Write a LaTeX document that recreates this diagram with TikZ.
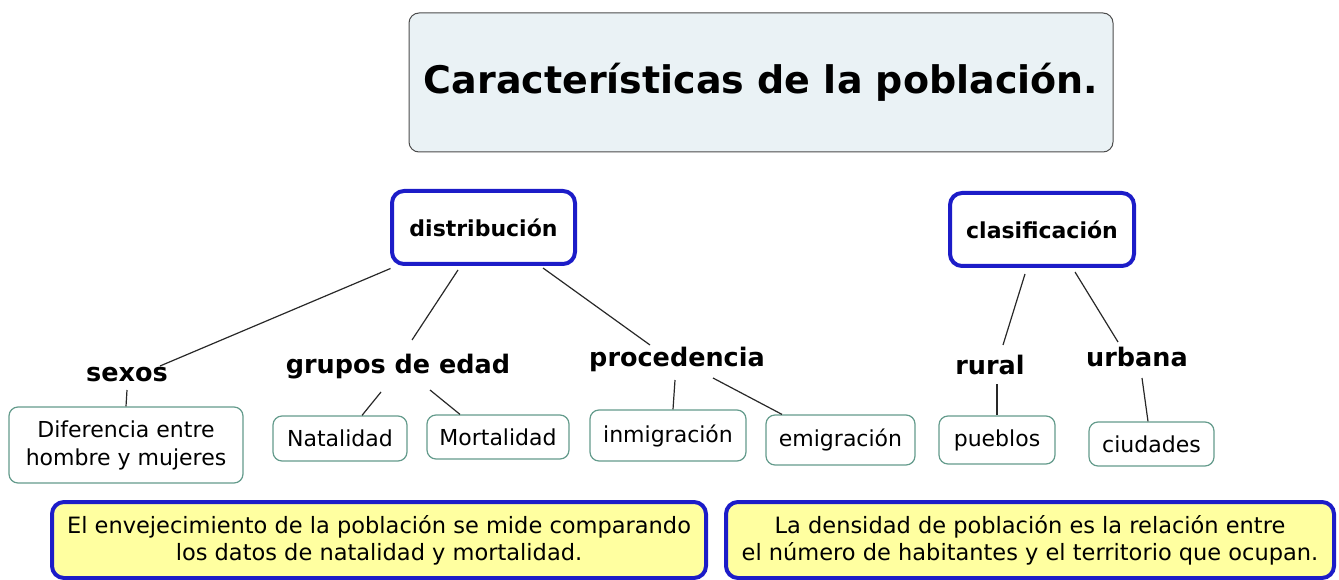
\documentclass[tikz,border=0pt]{standalone}
\usepackage{fontspec}
\setmainfont{DejaVu Sans}
\usetikzlibrary{calc}
\definecolor{bblue}{RGB}{28,28,200}
\definecolor{tealb}{RGB}{100,155,140}
\definecolor{titlefill}{RGB}{234,242,245}
\definecolor{yfill}{RGB}{255,255,160}
\definecolor{lin}{RGB}{40,40,40}
\tikzset{
  titlebox/.style={draw=black!70, fill=titlefill, line width=1pt, rounded corners=10pt, inner sep=0pt,
    font=\fontsize{38}{44}\selectfont\bfseries},
  conbox/.style={draw=bblue, fill=white, line width=4pt, rounded corners=12pt, inner sep=0pt,
    font=\fontsize{22}{26}\selectfont\bfseries},
  lab/.style={inner sep=0pt, font=\fontsize{25.5}{30}\selectfont\bfseries},
  leaf/.style={draw=tealb, fill=white, line width=1.2pt, rounded corners=9pt, inner sep=0pt, align=center,
    font=\fontsize{22}{28}\selectfont},
  note/.style={draw=bblue, fill=yfill, line width=4pt, rounded corners=12pt, inner sep=0pt, align=center,
    font=\fontsize{22.5}{27}\selectfont},
  link/.style={draw=lin, line width=1.2pt}
}
\begin{document}
\begin{tikzpicture}[x=1pt,y=-1pt]
\useasboundingbox (0,0) rectangle (1339,580);
\node[titlebox, minimum width=704, minimum height=139] (title) at (761,82.5) {Características de la población.};
\node[conbox, minimum width=183, minimum height=73] (dist) at (483.5,227.5) {distribución};
\node[conbox, minimum width=184, minimum height=73] (clas) at (1042,229.5) {clasificación};
\node[lab] (sexos) at (127,375) {sexos};
\node[lab] (grupos) at (398,367) {grupos de edad};
\node[lab] (proc) at (677,359) {procedencia};
\node[lab] (rural) at (990,365) {rural};
\node[lab] (urbana) at (1137,357) {urbana};
\node[leaf, minimum width=234, minimum height=76] (dif) at (126,445) {Diferencia entre\\hombre y mujeres};
\node[leaf, minimum width=134, minimum height=45] (nat) at (340,438.5) {Natalidad};
\node[leaf, minimum width=142, minimum height=44] (mort) at (498,437) {Mortalidad};
\node[leaf, minimum width=156, minimum height=51] (inm) at (668,435.5) {inmigración};
\node[leaf, minimum width=149, minimum height=50] (emi) at (840.5,440) {emigración};
\node[leaf, minimum width=116, minimum height=48] (pue) at (997,440) {pueblos};
\node[leaf, minimum width=125, minimum height=44] (ciu) at (1151.5,444) {ciudades};
\node[note, minimum width=654, minimum height=76] (n1) at (379,540) {El envejecimiento de la población se mide comparando\\los datos de natalidad y mortalidad.};
\node[note, minimum width=608, minimum height=76] (n2) at (1030,540) {La densidad de población es la relación entre\\el número de habitantes y el territorio que ocupan.};
\draw[link] ($(dist)+(-93,41)$) -- ($(sexos)+(33,-9)$);
\draw[link] ($(dist)+(-25.5,42.5)$) -- ($(grupos)+(14,-27)$);
\draw[link] ($(dist)+(59.5,40.5)$) -- ($(proc)+(-27,-14)$);
\draw[link] ($(clas)+(-17,44.5)$) -- ($(rural)+(13,-20)$);
\draw[link] ($(clas)+(33,42.5)$) -- ($(urbana)+(-19,-15)$);
\draw[link] ($(sexos)+(0,15)$) -- (dif.north);
\draw[link] ($(grupos)+(-17,25)$) -- ($(nat.north)+(22,0)$);
\draw[link] ($(grupos)+(32,23)$) -- ($(mort.north)+(-38,0)$);
\draw[link] ($(proc)+(-2,21)$) -- ($(inm.north)+(5,0)$);
\draw[link] ($(proc)+(36,19)$) -- ($(emi.north)+(-58.5,0)$);
\draw[link] ($(rural)+(7,19)$) -- (pue.north);
\draw[link] ($(urbana)+(5,21)$) -- ($(ciu.north)+(-3.5,0)$);
\end{tikzpicture}
\end{document}
